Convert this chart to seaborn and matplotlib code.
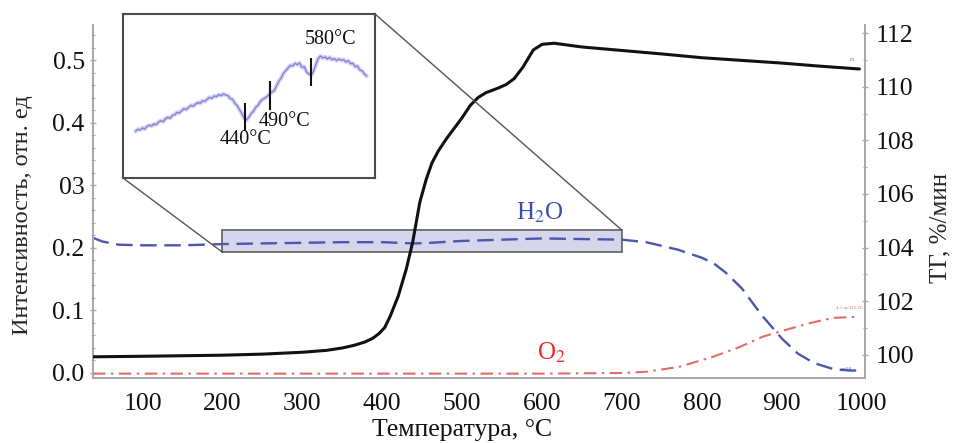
import numpy as np
import pandas as pd
import matplotlib
matplotlib.use("Agg")
import matplotlib.pyplot as plt
from matplotlib.patches import Rectangle, ConnectionPatch
import seaborn as sns

# ---------------- data ----------------
# TG curve (right axis, %)
tg_temp = [38, 100, 150, 200, 250, 300, 330, 350, 365, 378, 388, 396, 403, 410, 420,
           430, 438, 447, 455, 462, 470, 480, 490, 500, 510, 520, 530, 545, 555, 565,
           576, 589, 600, 615, 650, 700, 750, 800, 850, 900, 950, 997]
tg_value = [99.93, 99.95, 99.97, 99.99, 100.03, 100.10, 100.17, 100.26, 100.36, 100.48,
            100.62, 100.80, 101.02, 101.45, 102.20, 103.20, 104.20, 105.70, 106.55, 107.15,
            107.60, 108.05, 108.45, 108.85, 109.30, 109.60, 109.78, 109.95, 110.08, 110.30,
            110.73, 111.37, 111.58, 111.62, 111.48, 111.35, 111.22, 111.08, 110.98, 110.88,
            110.76, 110.66]

# H2O intensity (left axis)
h2o_temp = [38, 50, 70, 100, 150, 200, 250, 300, 350, 400, 440, 460, 500, 550, 600,
            650, 700, 730, 770, 800, 815, 830, 850, 875, 900, 920, 940, 965, 985, 997]
h2o_value = [0.216, 0.210, 0.205, 0.204, 0.204, 0.206, 0.207, 0.208, 0.209, 0.209,
             0.207, 0.208, 0.211, 0.213, 0.215, 0.214, 0.213, 0.209, 0.197, 0.184,
             0.175, 0.160, 0.135, 0.092, 0.055, 0.031, 0.016, 0.006, 0.004, 0.004]

# O2 intensity (left axis)
o2_temp = [38, 200, 400, 600, 700, 731, 772, 814, 848, 876, 897, 919, 939, 964, 997]
o2_value = [-0.001, -0.001, -0.001, -0.001, 0.000, 0.002, 0.010, 0.026, 0.042, 0.058,
            0.066, 0.074, 0.081, 0.088, 0.090]

# inset: zoomed H2O signal between 200 and 700 °C (arbitrary units)
inset_temp = list(range(200, 705, 5))
inset_value = [1.40, 1.46, 1.44, 1.50, 1.47, 1.55, 1.58, 1.56, 1.62, 1.60,
               1.68, 1.72, 1.69, 1.78, 1.82, 1.79, 1.88, 1.90, 1.97, 1.95,
               2.02, 2.08, 2.05, 2.12, 2.18, 2.15, 2.22, 2.26, 2.24, 2.32,
               2.30, 2.36, 2.42, 2.39, 2.46, 2.44, 2.50, 2.47, 2.52, 2.49,
               2.47, 2.38, 2.36, 2.24, 2.17, 2.05, 1.93, 1.80, 1.74, 1.82,
               1.93, 2.00, 2.12, 2.18, 2.30, 2.36, 2.40, 2.45, 2.52, 2.58,
               2.62, 2.76, 2.90, 3.00, 3.14, 3.22, 3.30, 3.38, 3.36, 3.44,
               3.40, 3.45, 3.32, 3.34, 3.18, 3.12, 3.08, 3.20, 3.40, 3.58,
               3.66, 3.60, 3.63, 3.57, 3.62, 3.55, 3.58, 3.52, 3.57, 3.53,
               3.55, 3.48, 3.52, 3.43, 3.44, 3.34, 3.36, 3.24, 3.22, 3.12,
               3.06]
peak_temps = [437, 490, 579]
peak_labels = ["440°C", "490°C", "580°C"]

x_ticks = [100, 200, 300, 400, 500, 600, 700, 800, 900, 1000]
left_ticks = [0.0, 0.1, 0.2, 0.3, 0.4, 0.5]
left_tick_labels = ["0.0", "0.1", "0.2", "03", "0.4", "0.5"]
right_ticks = [100, 102, 104, 106, 108, 110, 112]

# ---------------- figure ----------------
sns.set_theme(style="white")
plt.rcParams["font.family"] = ["Liberation Serif", "DejaVu Serif"]
plt.rcParams["mathtext.fontset"] = "stix"

fig = plt.figure(figsize=(9.54, 4.43), dpi=100)
ax = fig.add_axes([93 / 954, 1 - 378 / 443, (865 - 93) / 954, (378 - 25) / 443])
ax2 = ax.twinx()

spine_col = "#a8a8a8"
for a in (ax, ax2):
    a.set_facecolor("none")
    for s in a.spines.values():
        s.set_color(spine_col)
        s.set_linewidth(1.4)
    a.spines["top"].set_visible(False)
ax.patch.set_visible(False)

df_tg = pd.DataFrame({"T": tg_temp, "TG": tg_value})
df_h2o = pd.DataFrame({"T": h2o_temp, "I": h2o_value})
df_o2 = pd.DataFrame({"T": o2_temp, "I": o2_value})

# highlighted band
ax.add_patch(Rectangle((200, 0.193), 500, 0.035, facecolor="#d5d6ec",
                       edgecolor="#6a6a6a", lw=1.3, zorder=1))

sns.lineplot(data=df_h2o, x="T", y="I", ax=ax, color="#4a57ad", lw=1.7,
             dashes=False, zorder=3)
ax.lines[-1].set_dashes((7, 3.2))
sns.lineplot(data=df_o2, x="T", y="I", ax=ax, color="#e36a6a", lw=1.5,
             dashes=False, zorder=3)
ax.lines[-1].set_dashes((6, 2.6, 1.2, 2.6))

sns.lineplot(data=df_tg, x="T", y="TG", ax=ax2, color="#111111", lw=2.2, zorder=4)

ax.set_xlim(38, 1004)
ax.set_ylim(-0.008, 0.556)
ax2.set_ylim(99.14, 112.3)

ax.set_xticks(x_ticks)
ax.set_xticks(np.arange(40, 1001, 20), minor=True)
ax.set_yticks(left_ticks)
ax.set_yticklabels(left_tick_labels)
ax.set_yticks(np.arange(0.0, 0.551, 0.02), minor=True)
ax2.set_yticks(right_ticks)
ax2.set_yticks(np.arange(100, 112.5, 1), minor=True)

for a in (ax, ax2):
    a.tick_params(which="both", colors=spine_col, labelcolor="#111111",
                  direction="inout", labelsize=18.5)
    a.tick_params(which="major", length=4, width=1)
    a.tick_params(which="minor", length=3, width=0.8)
ax.tick_params(axis="x", pad=9)
ax.tick_params(axis="y", pad=4)
ax2.tick_params(axis="y", pad=6)

ax.set_xlabel("")
fig.text(462 / 954, 1 - 436 / 443, "Температура, °C", fontsize=18.5,
         ha="center", va="baseline", color="#111111")
ax.set_ylabel("Интенсивность, отн. ед", fontsize=17.5, ha="center", va="center")
ax.yaxis.set_label_coords((22 - 93) / 772, (378 - 215) / 353)
ax2.set_ylabel("ТГ, %/мин", fontsize=18, ha="center", va="center")
ax2.yaxis.set_label_coords((940 - 93) / 772, (378 - 228) / 353)

# curve labels
ax.text(597, 0.256, "H$_2$O", color="#3a50b0", fontsize=18, ha="center", va="center")
ax.text(612, 0.032, "O$_2$", color="#ff2424", fontsize=18, ha="center", va="center")

# tiny instrument tags at curve ends
ax2.text(985, 110.95, "m", fontsize=4, color="#888888", ha="left")
ax.text(968, 0.104, "4.1 m/32(O2)", fontsize=3.5, color="#e36a6a", ha="left")
ax.text(975, 0.004, "m/18", fontsize=3.5, color="#4a57ad", ha="left")

# ---------------- inset ----------------
axins = fig.add_axes([123 / 954, 1 - 178 / 443, (375 - 123) / 954, (178 - 14) / 443])
axins.set_facecolor("white")
df_in = pd.DataFrame({"T": inset_temp, "v": inset_value})
sns.lineplot(data=df_in, x="T", y="v", ax=axins, color="#9a9ae6", lw=3.0, alpha=0.45)
sns.lineplot(data=df_in, x="T", y="v", ax=axins, color="#6f6fd2", lw=0.9, alpha=0.85)
axins.set_xlim(173, 718)
axins.set_ylim(0, 4.92)
axins.set_xticks([])
axins.set_yticks([])
axins.set_xlabel("")
axins.set_ylabel("")
for s in axins.spines.values():
    s.set_color("#4a4a4a")
    s.set_linewidth(1.5)
    s.set_visible(True)

marker_lo = [1.40, 2.05, 2.75]
marker_hi = [2.25, 2.90, 3.60]
axins.vlines(peak_temps, marker_lo, marker_hi, colors="#111111", lw=1.5)
axins.text(437, 1.17, peak_labels[0], fontsize=14.5, ha="center", va="center", color="#111111")
axins.text(522, 1.70, peak_labels[1], fontsize=14.5, ha="center", va="center", color="#111111")
axins.text(621, 4.15, peak_labels[2], fontsize=14.5, ha="center", va="center", color="#111111")

# connector lines
for xyA, xyB in [((200, 0.193), (0, 0)), ((700, 0.228), (1, 1))]:
    cp = ConnectionPatch(xyA=xyA, coordsA=ax.transData, xyB=xyB, coordsB=axins.transAxes,
                         color="#555555", lw=1.0)
    fig.add_artist(cp)

fig.savefig("out.png", dpi=100)
